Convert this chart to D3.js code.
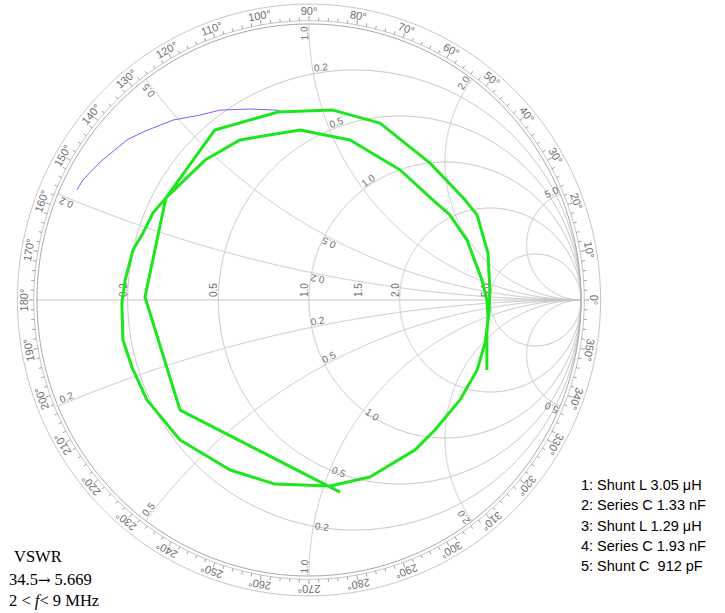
<!DOCTYPE html>
<html>
<head>
<meta charset="utf-8">
<script src="https://cdn.jsdelivr.net/npm/d3@7"></script>
<style>
  html, body { margin: 0; padding: 0; background: #fff; }
  svg { display: block; }
  text { white-space: pre; }
</style>
</head>
<body>
<svg id="chart" width="725" height="613"></svg>
<script>
// Smith chart grid values
const resistanceCircles = [0.2, 0.5, 1.0, 2.0, 5.0];
const reactanceArcs = [0.2, 0.5, 1.0, 2.0, 5.0];
const resistanceLabels = ["0.2", "0.5", "1.0", "2.0", "5.0"];
const extraAxisLabels = [1.5];
const reactanceLabels = ["0.2", "0.5", "1.0", "2.0", "5.0"];
const angleTicks = d3.range(0, 360, 10);

// Matched trace (reflection coefficient, real / imaginary)
const traceRe = [0.114, -0.474, -0.603, -0.526, -0.346, -0.114, 0.088, 0.261, 0.445, 0.574, 0.618, 0.658, 0.665, 0.662, 0.647, 0.618, 0.555, 0.463, 0.390, 0.224, 0.077, -0.125, -0.290, -0.474, -0.596, -0.651, -0.684, -0.688, -0.676, -0.647, -0.610, -0.574, -0.526, -0.382, -0.254, -0.033, 0.151, 0.335, 0.456, 0.518, 0.581, 0.636, 0.654, 0.658, 0.654, 0.654];
const traceIm = [-0.696, -0.399, 0.011, 0.370, 0.616, 0.681, 0.688, 0.641, 0.496, 0.362, 0.308, 0.170, 0.036, -0.047, -0.156, -0.254, -0.362, -0.471, -0.543, -0.641, -0.674, -0.667, -0.616, -0.507, -0.362, -0.243, -0.145, -0.011, 0.072, 0.181, 0.243, 0.315, 0.370, 0.507, 0.580, 0.616, 0.580, 0.471, 0.362, 0.308, 0.217, 0.072, 0.000, -0.062, -0.120, -0.254];

// Unmatched load trace
const loadRe = [-0.853, -0.831, -0.768, -0.669, -0.610, -0.500, -0.401, -0.327, -0.217, -0.118, -0.096];
const loadIm = [0.399, 0.435, 0.500, 0.580, 0.609, 0.652, 0.670, 0.688, 0.692, 0.688, 0.681];

// Annotation texts
const vswrTitle = "VSWR";
const vswrFrom = "34.5";
const vswrTo = " 5.669";
const networkLines = ["1: Shunt L 3.05 \u03bcH", "2: Series C 1.33 nF", "3: Shunt L 1.29 \u03bcH", "4: Series C 1.93 nF", "5: Shunt C  912 pF"];

const svg = d3.select("#chart");
const sx = d3.scaleLinear().domain([-1, 1]).range([37, 581]);
const sy = d3.scaleLinear().domain([-1, 1]).range([576, 24]);
const line = d3.line().x(d => sx(d[0])).y(d => sy(d[1]));

const gridColor = "#c6c6c6";
const labelColor = "#6e6e6e";

function gamma(r, x) {
  const den = (r + 1) * (r + 1) + x * x;
  return [(r * r + x * x - 1) / den, (2 * x) / den];
}
function ring(k, n = 360) {
  return d3.range(n + 1).map(i => {
    const a = (i / n) * 2 * Math.PI;
    return [k * Math.cos(a), k * Math.sin(a)];
  });
}
function screenAngle(p, q) {
  return Math.atan2(sy(q[1]) - sy(p[1]), sx(q[0]) - sx(p[0])) * 180 / Math.PI;
}

const grid = svg.append("g").attr("fill", "none").attr("stroke", gridColor).attr("stroke-width", 1);

// horizontal real axis
grid.append("path").attr("d", line([[-1, 0], [1, 0]]));

// constant resistance circles
resistanceCircles.forEach(r => {
  const pts = d3.range(-Math.PI / 2 + 0.0005, Math.PI / 2, 0.004).map(u => gamma(r, Math.tan(u)));
  grid.append("path").attr("d", line(pts));
});

// constant reactance arcs
reactanceArcs.forEach(x => {
  [x, -x].forEach(xx => {
    const pts = d3.range(0, Math.PI / 2, 0.002).map(u => gamma(Math.tan(u), xx));
    pts.push([1, 0]);
    grid.append("path").attr("d", line(pts));
  });
});

// outer rings
grid.append("path").attr("d", line(ring(1))).attr("stroke", "#a8a8a8");
grid.append("path").attr("d", line(ring(1.012)));
grid.append("path").attr("d", line(ring(1.072)));

// angle ticks
const ticks = svg.append("g").attr("stroke", "#a0a0a0").attr("stroke-width", 1);
d3.range(0, 360, 2).forEach(a => {
  const t = a * Math.PI / 180;
  const k2 = a % 10 === 0 ? 1.03 : 1.024;
  ticks.append("line")
    .attr("x1", sx(1.012 * Math.cos(t))).attr("y1", sy(1.012 * Math.sin(t)))
    .attr("x2", sx(k2 * Math.cos(t))).attr("y2", sy(k2 * Math.sin(t)));
});

// angle labels
const angLab = svg.append("g").attr("font-family", "Liberation Sans, Arial, sans-serif")
  .attr("font-size", 11).attr("fill", labelColor).attr("text-anchor", "middle");
angleTicks.forEach(a => {
  const t = a * Math.PI / 180;
  const px = sx(1.046 * Math.cos(t)), py = sy(1.046 * Math.sin(t));
  angLab.append("text")
    .attr("transform", `translate(${px},${py}) rotate(${90 - a})`)
    .attr("dy", "0.35em").text(a + "\u00b0");
});

// grid labels
const gl = svg.append("g").attr("font-family", "Liberation Sans, Arial, sans-serif")
  .attr("font-size", 10).attr("fill", labelColor);

// resistance values along the real axis
resistanceCircles.forEach((r, i) => {
  const px = sx((r - 1) / (r + 1)) - 1, py = sy(0) - 3;
  gl.append("text").attr("transform", `translate(${px},${py}) rotate(-90)`).text(resistanceLabels[i]);
});
extraAxisLabels.forEach(r => {
  const px = sx((r - 1) / (r + 1)) - 1, py = sy(0) - 3;
  gl.append("text").attr("transform", `translate(${px},${py}) rotate(-90)`).text(r.toFixed(1));
});

// a label that follows a direction; the upper half is turned end for end
function pairLabel(pLow, ang, pUp, txt) {
  gl.append("text").attr("transform", `translate(${sx(pLow[0])},${sy(pLow[1])}) rotate(${ang})`)
    .attr("dy", "-0.15em").text(txt);
  gl.append("text").attr("transform", `translate(${sx(pUp[0])},${sy(pUp[1])}) rotate(${180 - ang})`)
    .attr("text-anchor", "end").attr("dy", "-0.15em").text(txt);
}

// reactance values at the rim
reactanceArcs.forEach((x, i) => {
  const pLow = gamma(0.008, -x), qLow = gamma(0.1, -x);
  const pUp = gamma(0.008, x);
  pairLabel(pLow, screenAngle(pLow, qLow), pUp, reactanceLabels[i]);
});
// reactance values along the r = 1 circle
[0.2, 0.5].forEach(x => {
  const pLow = gamma(1, -x), qLow = gamma(1.3, -x);
  pairLabel(pLow, screenAngle(pLow, qLow), gamma(1, x), x.toFixed(1));
});
// resistance values along the x = 1 arcs
[0.2, 0.5, 1.0].forEach(r => {
  [1, -1].forEach(s => {
    const p = gamma(r, s);
    const q = gamma(r, s * 1.1);
    let ang = screenAngle(p, q);
    if (Math.abs(ang) > 90) ang += 180;
    gl.append("text").attr("transform", `translate(${sx(p[0]) + 1},${sy(p[1]) + (s > 0 ? -2 : 3)}) rotate(${ang})`)
      .text(r.toFixed(1));
  });
});

// load trace
svg.append("path")
  .attr("d", line(loadRe.map((v, i) => [v, loadIm[i]])))
  .attr("fill", "none").attr("stroke", "#6a6aff").attr("stroke-width", 1);

// matched trace
svg.append("path")
  .attr("d", line(traceRe.map((v, i) => [v, traceIm[i]])))
  .attr("fill", "none").attr("stroke", "#1ee61e").attr("stroke-width", 3)
  .attr("stroke-linejoin", "round");

// annotation text
const left = svg.append("g").attr("font-family", "Liberation Serif, Times New Roman, serif")
  .attr("font-size", 16.5).attr("fill", "#000");
left.append("text").attr("x", 14).attr("y", 562).text(vswrTitle);
const vl = left.append("text").attr("x", 9).attr("y", 585);
vl.append("tspan").text(vswrFrom);
vl.append("tspan").attr("font-family", "DejaVu Serif, serif").attr("font-size", 15).text("\u2192");
vl.append("tspan").text(vswrTo);
const fl = left.append("text").attr("x", 9).attr("y", 606);
fl.append("tspan").text("2 < ");
fl.append("tspan").attr("font-style", "italic").text("f");
fl.append("tspan").text("< 9 MHz");

const right = svg.append("g").attr("font-family", "Liberation Sans, Arial, sans-serif")
  .attr("font-size", 14.5).attr("fill", "#000");
networkLines.forEach((t, i) => {
  right.append("text").attr("x", 581).attr("y", 490 + i * 20.3).text(t);
});
</script>
</body>
</html>
